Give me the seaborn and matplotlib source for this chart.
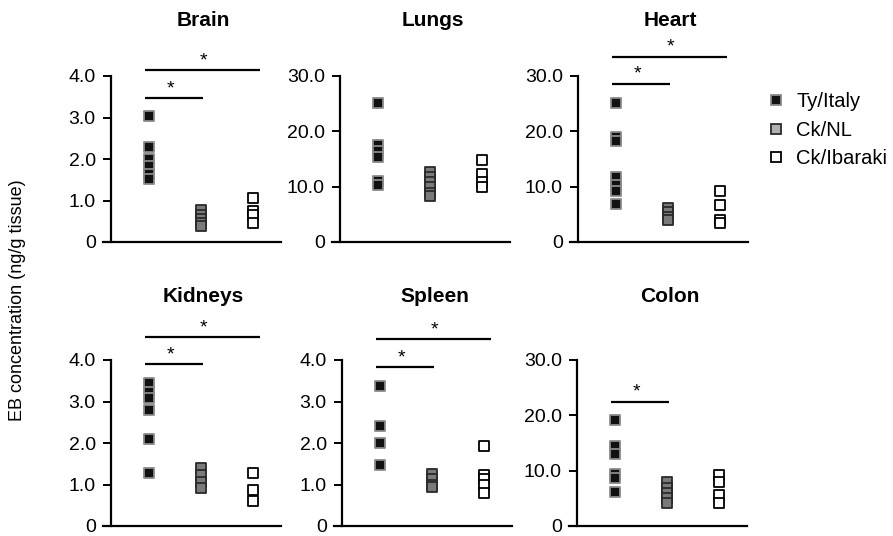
import matplotlib
matplotlib.use("Agg")
import matplotlib.pyplot as plt
from matplotlib.lines import Line2D
import seaborn as sns
import pandas as pd

# ---- data ----
groups = ["Ty/Italy", "Ck/NL", "Ck/Ibaraki"]
organs = ["Brain", "Lungs", "Heart", "Kidneys", "Spleen", "Colon"]

brain_ty = [3.03, 2.30, 2.01, 1.82, 1.65, 1.52]
brain_nl = [0.76, 0.66, 0.56, 0.46, 0.38]
brain_ib = [1.07, 0.75, 0.66, 0.45]

lungs_ty = [25.2, 17.6, 16.5, 15.3, 11.0, 10.3]
lungs_nl = [12.7, 11.8, 10.8, 9.9, 8.8, 8.3]
lungs_ib = [14.8, 12.2, 10.9, 10.0]

heart_ty = [25.2, 18.9, 18.3, 11.8, 10.3, 9.2, 6.8]
heart_nl = [6.2, 5.4, 4.6, 3.9]
heart_ib = [9.2, 6.6, 4.0, 3.4]

kidneys_ty = [3.45, 3.23, 3.08, 2.80, 2.09, 1.27]
kidneys_nl = [1.39, 1.23, 1.07, 0.91]
kidneys_ib = [1.27, 0.87, 0.61]

spleen_ty = [3.38, 2.40, 2.01, 1.47]
spleen_nl = [1.25, 1.13, 1.00, 0.93]
spleen_ib = [1.93, 1.22, 1.13, 1.00, 0.80]

colon_ty = [19.2, 14.5, 13.0, 9.4, 8.6, 6.2]
colon_nl = [7.9, 6.8, 5.9, 5.0, 4.1]
colon_ib = [9.2, 8.0, 5.6, 4.2]

organ_values = {
    "Brain": (brain_ty, brain_nl, brain_ib),
    "Lungs": (lungs_ty, lungs_nl, lungs_ib),
    "Heart": (heart_ty, heart_nl, heart_ib),
    "Kidneys": (kidneys_ty, kidneys_nl, kidneys_ib),
    "Spleen": (spleen_ty, spleen_nl, spleen_ib),
    "Colon": (colon_ty, colon_nl, colon_ib),
}

y_max_tick = {"Brain": 4.0, "Lungs": 30.0, "Heart": 30.0,
              "Kidneys": 4.0, "Spleen": 4.0, "Colon": 30.0}
y_ticks_small = [0, 1, 2, 3, 4]
y_tick_labels_small = ["0", "1.0", "2.0", "3.0", "4.0"]
y_ticks_large = [0, 10, 20, 30]
y_tick_labels_large = ["0", "10.0", "20.0", "30.0"]

# significance bars: (group compared with Ty/Italy, bar height)
sig_bars = {
    "Brain": [(1, 3.47), (2, 4.14)],
    "Lungs": [],
    "Heart": [(1, 28.6), (2, 33.5)],
    "Kidneys": [(1, 3.90), (2, 4.55)],
    "Spleen": [(1, 3.83), (2, 4.50)],
    "Colon": [(1, 22.5)],
}

rows = []
for organ in organs:
    for gi, (g, vals) in enumerate(zip(groups, organ_values[organ])):
        for v in vals:
            rows.append({"organ": organ, "group": g, "pos": gi, "value": v})
df = pd.DataFrame(rows)

# ---- style ----
sns.set_style("ticks", {"axes.edgecolor": "black", "text.color": "black",
                        "xtick.color": "black", "ytick.color": "black",
                        "axes.labelcolor": "black"})
plt.rcParams["font.family"] = ["Liberation Sans", "DejaVu Sans"]

fills = {"Ty/Italy": "#111111", "Ck/NL": "#7a7a7a", "Ck/Ibaraki": "#ffffff"}
edges = {"Ty/Italy": "#8a8a8a", "Ck/NL": "#2a2a2a", "Ck/Ibaraki": "#000000"}

W, H = 893, 536
fig = plt.figure(figsize=(W / 100, H / 100), dpi=100)

yaxis_px = {"Brain": 111, "Lungs": 340, "Heart": 578,
            "Kidneys": 111, "Spleen": 342, "Colon": 577}
row_geom = {0: (242, 76, 18), 1: (526, 360, 302)}  # bottom, top tick, axes top
title_y = {0: 20, 1: 297}
spacing = 52.0
x_left = -0.885
x_right = 2.54
spine_x = -0.73

for i, organ in enumerate(organs):
    r = i // 3
    bottom, toptick, axtop = row_geom[r]
    ya = yaxis_px[organ]
    left_px = ya - 8
    width_px = (x_right - x_left) * spacing
    vmax = y_max_tick[organ]
    ymax = vmax * (bottom - axtop) / (bottom - toptick)
    ax = fig.add_axes([left_px / W, 1 - bottom / H, width_px / W, (bottom - axtop) / H])
    sub = df[df.organ == organ]
    for g in groups:
        sg = sub[sub.group == g]
        sns.scatterplot(data=sg, x="pos", y="value", ax=ax, marker="s", s=48,
                        color=fills[g], edgecolor=edges[g], linewidth=1.3,
                        legend=False, zorder=3)
    ax.set_xlim(x_left, x_right)
    ax.set_ylim(0, ymax)
    ax.spines["top"].set_visible(False)
    ax.spines["right"].set_visible(False)
    ax.spines["left"].set_position(("data", spine_x))
    ax.spines["left"].set_bounds(0, vmax)
    ax.spines["left"].set_linewidth(1.6)
    ax.spines["bottom"].set_linewidth(1.6)
    ax.set_xticks([])
    if vmax == 4.0:
        ax.set_yticks(y_ticks_small)
        ax.set_yticklabels(y_tick_labels_small)
    else:
        ax.set_yticks(y_ticks_large)
        ax.set_yticklabels(y_tick_labels_large)
    ax.tick_params(axis="y", direction="out", length=6, width=1.4,
                   labelsize=14, pad=5, colors="black")
    ax.set_xlabel("")
    ax.set_ylabel("")
    ax.patch.set_alpha(0)
    # title
    fig.text((left_px + (1.05 - x_left) * spacing) / W, 1 - title_y[r] / H, organ,
             ha="center", va="center", fontsize=15, fontweight="bold")
    # significance bars
    for to, h in sig_bars[organ]:
        x1 = 1.03 if to == 1 else 2.14
        ax.plot([-0.08, x1], [h, h], color="black", lw=1.6, clip_on=False,
                solid_capstyle="butt")
        sx = 0.42 if to == 1 else 1.05
        ax.annotate("*", (sx, h), xytext=(0, 3.5), textcoords="offset points",
                    ha="center", va="baseline", fontsize=14, annotation_clip=False)

# legend
handles = [Line2D([], [], linestyle="none", marker="s", markersize=7.5,
                  markerfacecolor=c, markeredgecolor=e, markeredgewidth=1.3)
           for c, e in [("#111111", "#8a8a8a"), ("#b0b0b0", "#2a2a2a"), ("#ffffff", "#000000")]]
fig.legend(handles, groups, loc="upper left", bbox_to_anchor=(768 / W, 1 - 92 / H),
           frameon=False, fontsize=14.5, handlelength=0.8, handletextpad=0.6,
           labelspacing=0.48, borderpad=0, borderaxespad=0)

fig.text(18 / W, 1 - 300 / H, "EB concentration (ng/g tissue)", rotation=90,
         ha="center", va="center", fontsize=13)

fig.savefig("out.png", dpi=100)
